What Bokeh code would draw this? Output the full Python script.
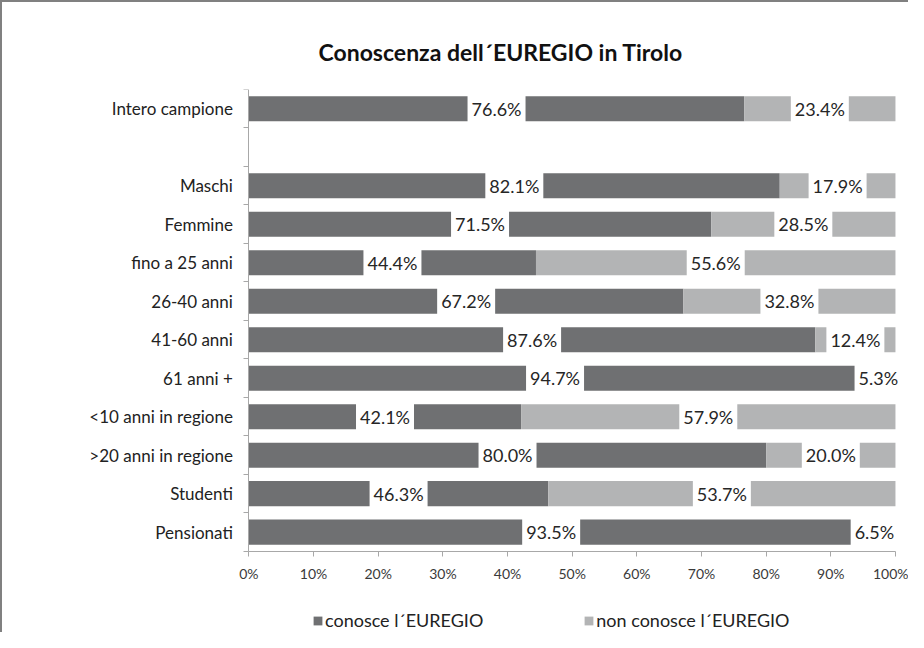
from bokeh.plotting import figure
from bokeh.models import (ColumnDataSource, FixedTicker, Legend,
                          LegendItem, Range1d)
from bokeh.core.properties import value
from bokeh.embed import file_html
from bokeh.resources import INLINE

# ---- data ----
rows = ["Intero campione", "", "Maschi", "Femmine", "fino a 25 anni",
        "26-40 anni", "41-60 anni", "61 anni +", "<10 anni in regione",
        ">20 anni in regione", "Studenti", "Pensionati"]
groups = ["Intero campione", "Maschi", "Femmine", "fino a 25 anni",
          "26-40 anni", "41-60 anni", "61 anni +", "<10 anni in regione",
          ">20 anni in regione", "Studenti", "Pensionati"]
conosce = [76.6, 82.1, 71.5, 44.4, 67.2, 87.6, 94.7, 42.1, 80.0, 46.3, 93.5]
non_conosce = [23.4, 17.9, 28.5, 55.6, 32.8, 12.4, 5.3, 57.9, 20.0, 53.7, 6.5]
x_ticks = [0, 10, 20, 30, 40, 50, 60, 70, 80, 90, 100]
x_tick_labels = ["0%", "10%", "20%", "30%", "40%", "50%", "60%", "70%",
                 "80%", "90%", "100%"]
series_names = ["conosce l\u00b4EUREGIO", "non conosce l\u00b4EUREGIO"]
title_text = "Conoscenza dell\u00b4EUREGIO in Tirolo"

DARK = "#6f7072"
LIGHT = "#b3b4b5"
AXIS = "#a8a8a8"
FONT = "Lato"

n = len(rows)
ypos = [n - 1 - rows.index(g) for g in groups]
total = [a + b for a, b in zip(conosce, non_conosce)]

src = ColumnDataSource(dict(
    y=ypos,
    c=conosce,
    nc=non_conosce,
    tot=total,
    c_mid=[v / 2 for v in conosce],
    nc_mid=[a + b / 2 for a, b in zip(conosce, non_conosce)],
    c_lab=["%.1f%%" % v for v in conosce],
    nc_lab=["%.1f%%" % v for v in non_conosce],
))

# The frame is widened (left for category labels, below for the legend) and
# the axes are pinned at x=0 / below the last row, so nothing gets clipped.
px_per_unit = 6.45
x_start = -(248 - 80) / px_per_unit
x_end = 100 + (908 - 893) / px_per_unit

p = figure(width=908, height=632, output_backend="svg", toolbar_location=None,
           x_range=Range1d(x_start, x_end), y_range=Range1d(-2.66, n - 0.5),
           min_border_left=78, min_border_right=0,
           min_border_top=87, min_border_bottom=0)

p.title.text = title_text
p.title.text_font = FONT
p.title.text_font_size = "23px"
p.title.text_font_style = "bold"
p.title.text_color = "#111111"
p.title.align = "left"
p.title.offset = 238
p.title.standoff = 47

r1 = p.hbar(y="y", left=0, right="c", height=0.65, source=src,
            fill_color=DARK, line_color=None)
r2 = p.hbar(y="y", left="c", right="tot", height=0.65, source=src,
            fill_color=LIGHT, line_color=None)

common = dict(text_font=value(FONT), text_font_size="18px", text_color="#262626",
              text_align="center", text_baseline="middle",
              background_fill_color="white", background_fill_alpha=1.0,
              padding=4)
p.text(x="c_mid", y="y", text="c_lab", source=src, **common)
p.text(x="nc_mid", y="y", text="nc_lab", source=src, **common)

p.xgrid.visible = False
p.ygrid.visible = False
p.outline_line_color = None
p.background_fill_color = "white"
p.border_fill_color = "white"

xa = p.xaxis[0]
xa.fixed_location = -0.5
xa.bounds = (0, 100)
xa.ticker = FixedTicker(ticks=x_ticks)
xa.major_label_overrides = {t: l for t, l in zip(x_ticks, x_tick_labels)}
xa.major_tick_in = 0
xa.major_tick_out = 5
xa.minor_tick_line_color = None
xa.axis_line_color = AXIS
xa.major_tick_line_color = AXIS
xa.major_label_text_font = FONT
xa.major_label_text_font_size = "14px"
xa.major_label_text_color = "#3a3a3a"
xa.major_label_standoff = 9

ya = p.yaxis[0]
ya.fixed_location = 0
ya.bounds = (-0.5, n - 0.5)
ya.ticker = FixedTicker(ticks=ypos, minor_ticks=[i - 0.5 for i in range(n + 1)])
ya.major_label_overrides = {y: g for y, g in zip(ypos, groups)}
ya.major_tick_line_color = None
ya.major_tick_in = 0
ya.major_tick_out = 0
ya.minor_tick_in = 0
ya.minor_tick_out = 5
ya.minor_tick_line_color = AXIS
ya.axis_line_color = AXIS
ya.major_label_text_font = FONT
ya.major_label_text_font_size = "17px"
ya.major_label_text_color = "#222222"
ya.major_label_standoff = 11

legend = Legend(items=[LegendItem(label=series_names[0], renderers=[r1]),
                       LegendItem(label=series_names[1], renderers=[r2])],
                orientation="horizontal", location=(232, 3),
                glyph_width=11, glyph_height=11, label_standoff=2,
                spacing=100, padding=0, margin=0,
                label_text_font=FONT, label_text_font_size="18px",
                label_text_color="#222222", border_line_color=None,
                background_fill_alpha=0)
p.add_layout(legend)

p.styles = {"border-top": "2px solid #808080", "border-left": "2px solid #808080",
            "box-sizing": "border-box"}

open("out.html", "w").write(file_html(p, INLINE))
